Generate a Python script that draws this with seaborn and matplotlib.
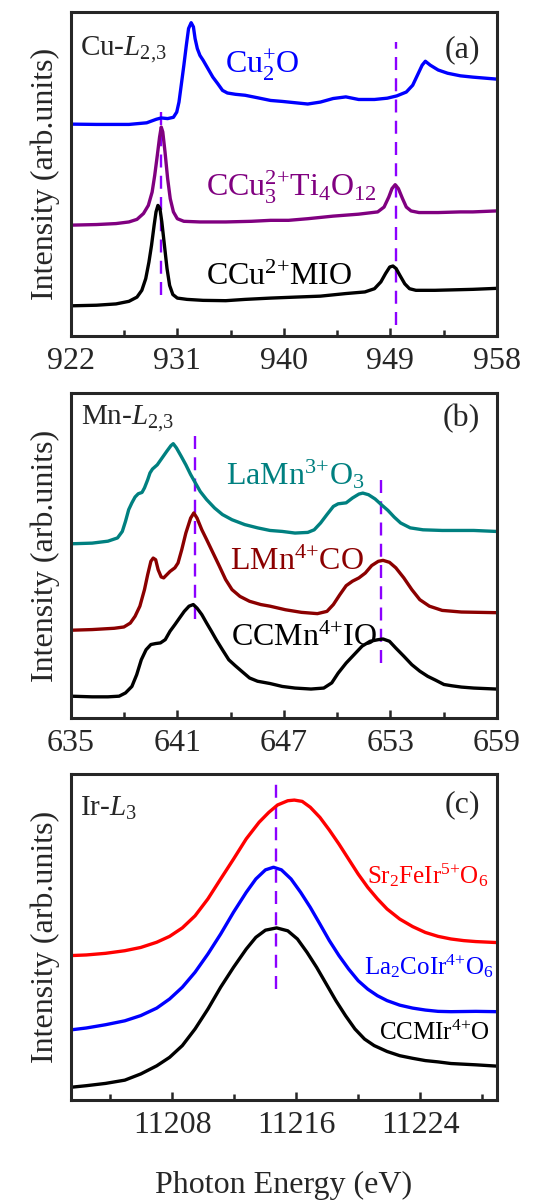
import numpy as np
import pandas as pd
import matplotlib
matplotlib.use("Agg")
import matplotlib.pyplot as plt
import seaborn as sns

#%%
# ---------------- panel (a): Cu-L2,3 ----------------
cu2o_x = [921.86, 924.18, 926.91, 928.41, 929.23, 929.64, 930.18, 930.67, 930.95, 931.14,
          931.33, 931.55, 931.76, 931.95, 932.17, 932.36, 932.50, 932.69, 932.91, 933.18,
          933.59, 934.0, 934.41, 934.82, 935.23, 935.91, 936.73, 937.82, 938.88, 939.87,
          940.94, 942.02, 943.09, 944.17, 945.24, 946.32, 947.66, 948.74, 949.54, 950.35,
          950.89, 951.29, 951.69, 951.96, 952.37, 953.04, 953.84, 954.92, 955.97, 957.94]
cu2o_y = [0.654, 0.653, 0.653, 0.658, 0.669, 0.673, 0.671, 0.675, 0.691, 0.722,
          0.774, 0.835, 0.897, 0.949, 0.967, 0.954, 0.918, 0.887, 0.866, 0.851,
          0.825, 0.799, 0.779, 0.758, 0.750, 0.746, 0.743, 0.735, 0.727, 0.724,
          0.720, 0.716, 0.722, 0.733, 0.738, 0.730, 0.730, 0.734, 0.741, 0.753,
          0.774, 0.805, 0.836, 0.848, 0.836, 0.821, 0.811, 0.803, 0.799, 0.793]

ccto_x = [921.86, 924.18, 925.82, 926.91, 927.59, 928.14, 928.55, 928.87, 929.09, 929.31,
          929.50, 929.64, 929.77, 929.96, 930.18, 930.40, 930.67, 931.0, 931.55, 932.91,
          935.09, 937.27, 938.88, 940.40, 942.02, 944.17, 946.32, 947.93, 948.47, 948.87,
          949.14, 949.41, 949.68, 950.03, 950.35, 950.75, 951.42, 953.04, 954.92, 955.97,
          957.94]
ccto_y = [0.342, 0.344, 0.347, 0.352, 0.360, 0.378, 0.403, 0.444, 0.496, 0.558,
          0.614, 0.645, 0.630, 0.568, 0.486, 0.424, 0.383, 0.362, 0.354, 0.352,
          0.352, 0.354, 0.357, 0.357, 0.362, 0.370, 0.376, 0.383, 0.398, 0.429,
          0.455, 0.467, 0.455, 0.424, 0.398, 0.386, 0.381, 0.381, 0.383, 0.383,
          0.386]

ccumio_x = [921.86, 924.18, 925.82, 926.91, 927.59, 928.0, 928.33, 928.60, 928.82, 929.04,
            929.20, 929.36, 929.53, 929.69, 929.91, 930.13, 930.35, 930.62, 931.0, 931.82,
            933.18, 935.09, 936.73, 938.88, 940.94, 943.09, 945.24, 946.85, 947.66, 948.20,
            948.60, 948.95, 949.22, 949.49, 949.81, 950.22, 950.62, 951.16, 952.77, 954.92,
            955.97, 957.94]
ccumio_y = [0.093, 0.095, 0.099, 0.107, 0.120, 0.141, 0.177, 0.228, 0.280, 0.342,
            0.383, 0.403, 0.393, 0.352, 0.280, 0.208, 0.156, 0.128, 0.117, 0.113,
            0.110, 0.109, 0.113, 0.117, 0.120, 0.123, 0.131, 0.136, 0.146, 0.167,
            0.193, 0.213, 0.216, 0.208, 0.187, 0.161, 0.146, 0.141, 0.141, 0.143,
            0.144, 0.147]

# ---------------- panel (b): Mn-L2,3 ----------------
lmo_x = [635.03, 636.20, 637.09, 637.63, 637.90, 638.08, 638.26, 638.44, 638.62, 638.80,
         639.01, 639.15, 639.33, 639.46, 639.60, 639.87, 640.14, 640.41, 640.64, 640.77,
         640.95, 641.22, 641.48, 641.75, 642.02, 642.29, 642.65, 643.10, 643.54, 644.08,
         644.80, 645.52, 646.22, 646.91, 647.63, 648.35, 648.71, 649.07, 649.43, 649.79,
         650.06, 650.51, 650.87, 651.23, 651.45, 651.77, 652.14, 652.50, 652.86, 653.22,
         653.58, 654.12, 654.84, 655.92, 657.70, 658.96]
lmo_y = [0.536, 0.538, 0.544, 0.554, 0.574, 0.605, 0.641, 0.662, 0.680, 0.690,
         0.694, 0.708, 0.733, 0.754, 0.766, 0.779, 0.800, 0.821, 0.838, 0.844,
         0.831, 0.805, 0.779, 0.749, 0.723, 0.697, 0.672, 0.646, 0.626, 0.610,
         0.595, 0.585, 0.577, 0.574, 0.569, 0.571, 0.579, 0.600, 0.626, 0.651,
         0.659, 0.662, 0.677, 0.689, 0.692, 0.687, 0.674, 0.656, 0.639, 0.618,
         0.600, 0.585, 0.579, 0.577, 0.577, 0.574]

lmco_x = [635.03, 636.20, 637.45, 637.99, 638.35, 638.62, 638.89, 639.15, 639.33, 639.51,
          639.64, 639.78, 639.92, 640.09, 640.23, 640.41, 640.59, 640.86, 641.04, 641.25,
          641.48, 641.75, 641.93, 642.11, 642.38, 642.65, 643.01, 643.37, 643.72, 644.08,
          644.53, 645.07, 645.70, 646.22, 647.09, 647.99, 648.89, 649.43, 649.79, 650.15,
          650.51, 650.87, 651.23, 651.59, 651.95, 652.32, 652.59, 652.95, 653.31, 653.76,
          654.21, 654.66, 655.20, 655.92, 657.0, 658.96]
lmco_y = [0.270, 0.272, 0.276, 0.280, 0.292, 0.313, 0.344, 0.395, 0.441, 0.482,
          0.492, 0.487, 0.456, 0.434, 0.431, 0.441, 0.451, 0.462, 0.477, 0.518,
          0.569, 0.615, 0.631, 0.615, 0.579, 0.549, 0.508, 0.467, 0.426, 0.395,
          0.374, 0.359, 0.349, 0.344, 0.333, 0.325, 0.321, 0.328, 0.349, 0.379,
          0.407, 0.421, 0.431, 0.446, 0.469, 0.482, 0.485, 0.479, 0.462, 0.431,
          0.395, 0.364, 0.344, 0.331, 0.326, 0.324]

ccmnio_x = [635.03, 636.20, 637.09, 637.72, 638.08, 638.44, 638.71, 638.97, 639.24, 639.51,
            639.78, 640.05, 640.32, 640.59, 640.86, 641.13, 641.39, 641.66, 641.90, 642.11,
            642.38, 642.65, 642.92, 643.19, 643.54, 643.90, 644.26, 644.62, 645.07, 645.52,
            646.22, 646.91, 647.63, 648.53, 649.25, 649.70, 650.06, 650.51, 650.96, 651.41,
            651.86, 652.32, 652.59, 652.95, 653.31, 653.76, 654.21, 654.66, 655.11, 655.56,
            656.02, 656.47, 657.01, 657.70, 658.96]
ccmnio_y = [0.067, 0.065, 0.065, 0.067, 0.077, 0.097, 0.133, 0.179, 0.210, 0.226,
            0.229, 0.231, 0.241, 0.267, 0.287, 0.308, 0.328, 0.344, 0.349, 0.338,
            0.318, 0.292, 0.267, 0.241, 0.210, 0.179, 0.161, 0.144, 0.123, 0.113,
            0.106, 0.097, 0.092, 0.089, 0.092, 0.108, 0.138, 0.169, 0.195, 0.221,
            0.236, 0.241, 0.243, 0.236, 0.215, 0.190, 0.164, 0.144, 0.128, 0.116,
            0.103, 0.099, 0.095, 0.092, 0.089]

# ---------------- panel (c): Ir-L3 ----------------
sfio_x = [11201.44, 11202.47, 11203.71, 11204.95, 11205.98, 11207.01, 11207.84, 11208.66,
          11209.48, 11210.31, 11211.13, 11211.96, 11212.78, 11213.61, 11214.23, 11214.80,
          11215.46, 11215.88, 11216.39, 11216.91, 11217.53, 11218.14, 11218.76, 11219.38,
          11220.0, 11220.62, 11221.24, 11221.86, 11222.68, 11223.51, 11224.33, 11225.15,
          11225.98, 11226.80, 11227.59, 11228.94]
sfio_y = [0.443, 0.445, 0.450, 0.458, 0.468, 0.484, 0.502, 0.528,
          0.565, 0.617, 0.678, 0.739, 0.801, 0.852, 0.882, 0.905,
          0.918, 0.920, 0.916, 0.898, 0.867, 0.828, 0.785, 0.739,
          0.693, 0.652, 0.617, 0.586, 0.555, 0.532, 0.514, 0.502,
          0.494, 0.489, 0.486, 0.483]

lcio_x = [11201.44, 11202.47, 11203.71, 11204.95, 11205.98, 11207.01, 11207.84, 11208.66,
          11209.48, 11210.31, 11211.13, 11211.96, 11212.78, 11213.40, 11214.02, 11214.54,
          11215.05, 11215.67, 11216.29, 11216.91, 11217.53, 11218.14, 11218.76, 11219.38,
          11220.0, 11220.62, 11221.24, 11221.86, 11222.68, 11223.51, 11224.33, 11225.15,
          11225.98, 11227.59, 11228.94]
lcio_y = [0.215, 0.221, 0.231, 0.243, 0.259, 0.282, 0.310, 0.346,
          0.392, 0.448, 0.509, 0.576, 0.637, 0.678, 0.706, 0.714,
          0.706, 0.678, 0.637, 0.591, 0.540, 0.489, 0.443, 0.402,
          0.366, 0.340, 0.320, 0.305, 0.291, 0.282, 0.276, 0.272,
          0.271, 0.272, 0.271]

ccmiro_x = [11201.44, 11202.47, 11203.71, 11204.95, 11205.98, 11207.01, 11207.84, 11208.66,
            11209.48, 11210.31, 11211.13, 11211.96, 11212.78, 11213.40, 11214.02, 11214.74,
            11215.46, 11216.08, 11216.70, 11217.32, 11217.94, 11218.56, 11219.18, 11219.79,
            11220.41, 11221.03, 11221.86, 11222.68, 11223.51, 11224.33, 11225.15, 11225.98,
            11227.59, 11228.94]
ccmiro_y = [0.039, 0.044, 0.051, 0.061, 0.080, 0.105, 0.131, 0.167,
            0.218, 0.279, 0.346, 0.407, 0.463, 0.499, 0.521, 0.528,
            0.519, 0.494, 0.453, 0.407, 0.356, 0.305, 0.259, 0.218,
            0.187, 0.167, 0.149, 0.136, 0.128, 0.121, 0.117, 0.112,
            0.108, 0.104]

#%%
sns.set_style("ticks")
plt.rcParams['font.family'] = ['Liberation Serif', 'DejaVu Serif']
plt.rcParams['mathtext.fontset'] = 'custom'
plt.rcParams['mathtext.rm'] = 'Liberation Serif'
plt.rcParams['mathtext.it'] = 'Liberation Serif:italic'
plt.rcParams['mathtext.bf'] = 'Liberation Serif:bold'

fs = 23
lw = 2.4
vcol = '#8B00FF'

fig = plt.figure(figsize=(5.49, 12), dpi=100)
ax_a = fig.add_axes([0.129, 0.72, 0.776, 0.27])
ax_b = fig.add_axes([0.129, 0.4017, 0.776, 0.2708])
ax_c = fig.add_axes([0.129, 0.0833, 0.776, 0.2717])


def draw(ax, xs, ys, color):
    d = pd.DataFrame({'E': xs, 'I': ys})
    sns.lineplot(data=d, x='E', y='I', ax=ax, color=color, lw=lw, sort=False)


def vdash(ax, x, y0, y1):
    ax.plot([x, x], [y0, y1], color=vcol, lw=1.7, dashes=(5.5, 3.5), zorder=1)


# (a)
vdash(ax_a, 929.58, 0.126, 0.691)
vdash(ax_a, 949.49, 0.033, 0.907)
draw(ax_a, cu2o_x, cu2o_y, '#0000FF')
draw(ax_a, ccto_x, ccto_y, '#800080')
draw(ax_a, ccumio_x, ccumio_y, 'black')
ax_a.set_xlim(922, 958)
ax_a.set_xticks([922, 931, 940, 949, 958])
ax_a.set_xticks(np.arange(926.5, 958, 9), minor=True)
ax_a.text(922.75, 0.885, 'Cu-$L_{2{,}3}$', fontsize=21, va='center')
ax_a.text(0.96, 0.885, '(a)', transform=ax_a.transAxes, fontsize=fs, ha='right', va='center')
ax_a.text(935.0, 0.835, 'Cu$^{{+}}_{2}$O', fontsize=fs, color='#0000FF', va='center')
ax_a.text(933.45, 0.46, 'CCu$^{2{+}}_{3}$Ti$_{4}$O$_{12}$', fontsize=fs, color='#800080', va='center')
ax_a.text(933.45, 0.18, 'CCu$^{2{+}}$MIO', fontsize=fs, color='black', va='center')

# (b)
vdash(ax_b, 641.99, 0.303, 0.867)
vdash(ax_b, 652.46, 0.169, 0.738)
draw(ax_b, lmo_x, lmo_y, '#008080')
draw(ax_b, lmco_x, lmco_y, '#8B0000')
draw(ax_b, ccmnio_x, ccmnio_y, 'black')
ax_b.set_xlim(635, 659)
ax_b.set_xticks([635, 641, 647, 653, 659])
ax_b.set_xticks(np.arange(638, 659, 6), minor=True)
ax_b.text(635.55, 0.92, 'Mn-$L_{2{,}3}$', fontsize=21, va='center')
ax_b.text(0.96, 0.92, '(b)', transform=ax_b.transAxes, fontsize=fs, ha='right', va='center')
ax_b.text(643.76, 0.75, 'LaMn$^{3{+}}$O$_{3}$', fontsize=fs, color='#008080', va='center')
ax_b.text(643.95, 0.48, 'LMn$^{4{+}}$CO', fontsize=fs, color='#8B0000', va='center')
ax_b.text(644.05, 0.245, 'CCMn$^{4{+}}$IO', fontsize=fs, color='black', va='center')

# (c)
vdash(ax_c, 11214.68, 0.340, 0.974)
draw(ax_c, sfio_x, sfio_y, '#FF0000')
draw(ax_c, lcio_x, lcio_y, '#0000FF')
draw(ax_c, ccmiro_x, ccmiro_y, 'black')
ax_c.set_xlim(11201.47, 11228.94)
ax_c.set_xticks([11208, 11216, 11224])
ax_c.set_xticks([11204, 11212, 11220, 11228], minor=True)
ax_c.text(11202.05, 0.895, 'Ir-$L_{3}$', fontsize=21, va='center')
ax_c.text(0.96, 0.905, '(c)', transform=ax_c.transAxes, fontsize=fs, ha='right', va='center')
ax_c.text(11228.4, 0.69, 'Sr$_{2}$FeIr$^{5{+}}$O$_{6}$', fontsize=18, color='#FF0000', ha='right', va='center')
ax_c.text(11228.7, 0.41, 'La$_{2}$CoIr$^{4{+}}$O$_{6}$', fontsize=18, color='#0000FF', ha='right', va='center')
ax_c.text(11228.5, 0.205, 'CCMIr$^{4{+}}$O', fontsize=18, color='black', ha='right', va='center')
ax_c.set_xlabel('Photon Energy (eV)', fontsize=fs, labelpad=22)

for ax in (ax_a, ax_b, ax_c):
    ax.set_ylim(0, 1)
    ax.set_yticks([])
    if ax is not ax_c:
        ax.set_xlabel('')
    ax.set_ylabel('Intensity (arb.units)', fontsize=fs, labelpad=8)
    for s in ax.spines.values():
        s.set_visible(True)
        s.set_linewidth(2.2)
    ax.tick_params(axis='x', which='major', direction='in', length=6, width=1.8,
                   labelsize=fs, pad=8, top=False)
    ax.tick_params(axis='x', which='minor', direction='in', length=4, width=1.8, top=False)

fig.savefig('out.png', dpi=100)
